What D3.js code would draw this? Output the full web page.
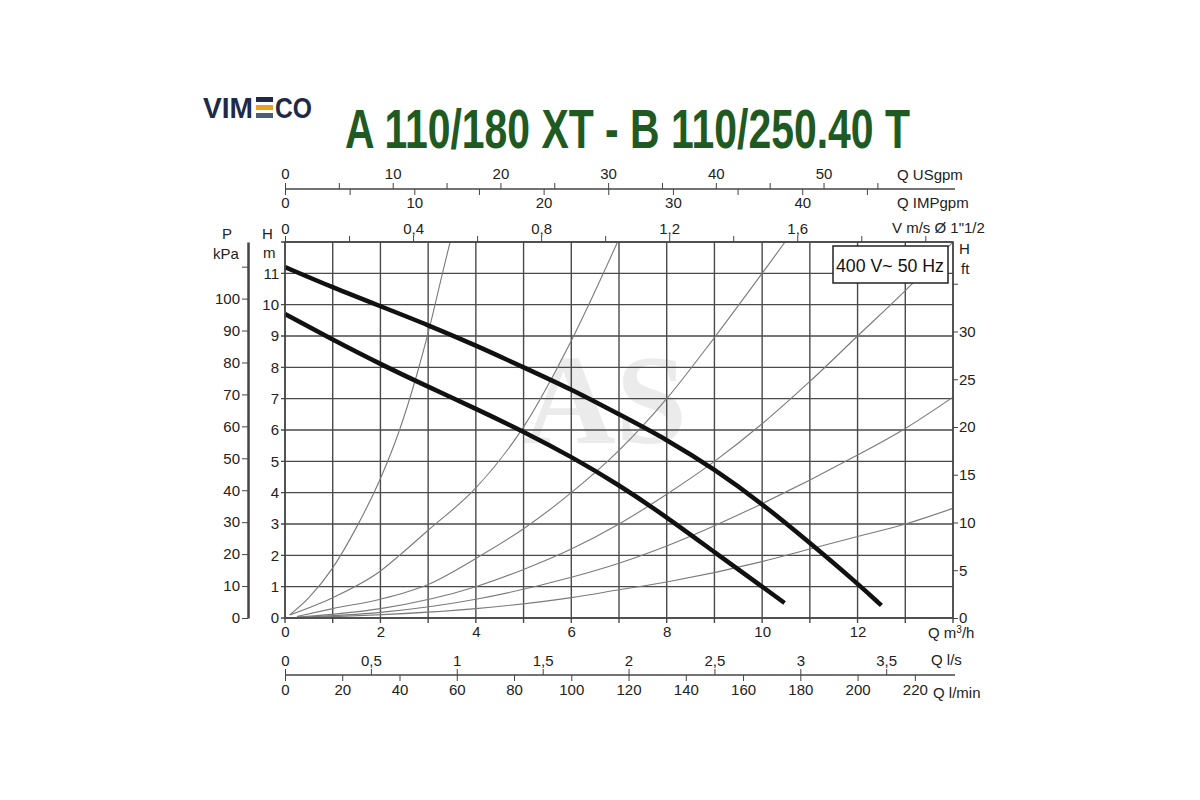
<!DOCTYPE html>
<html lang="en">
<head>
<meta charset="UTF-8">
<title>A 110/180 XT - B 110/250.40 T</title>
<script src="https://cdnjs.cloudflare.com/ajax/libs/d3/7.8.5/d3.min.js"></script>
<style>
    body {
        margin: 0;
        background: #fff;
    }
    svg {
        display: block;
        font-family: 'Liberation Sans', Arial, sans-serif;
    }
    .tick text, .lbl {
        font-size: 15px;
        fill: #222;
    }
    .axis path, .axis line {
        stroke: #444;
    }
</style>
</head>
<body>
<svg id="chart" width="1200" height="800"></svg>

<script>
// grid and tick values
const gridQ = [0, 1, 2, 3, 4, 5, 6, 7, 8, 9, 10, 11, 12, 13, 14];
const gridH = [0, 1, 2, 3, 4, 5, 6, 7, 8, 9, 10, 11, 12];
const qTicks = [0, 2, 4, 6, 8, 10, 12];
const hTicks = [0, 1, 2, 3, 4, 5, 6, 7, 8, 9, 10, 11];
const ftTicks = [0, 5, 10, 15, 20, 25, 30, 35];
const ftLabels = [0, 5, 10, 15, 20, 25, 30];
const kpaTicks = [0, 10, 20, 30, 40, 50, 60, 70, 80, 90, 100, 110];
const kpaLabels = [0, 10, 20, 30, 40, 50, 60, 70, 80, 90, 100];
const usTicks = [0, 5, 10, 15, 20, 25, 30, 35, 40, 45, 50, 55];
const usLabels = [0, 10, 20, 30, 40, 50];
const impTicks = [0, 5, 10, 15, 20, 25, 30, 35, 40, 45];
const impLabels = [0, 10, 20, 30, 40];
const vTicks = [0, 0.2, 0.4, 0.6, 0.8, 1.0, 1.2, 1.4, 1.6, 1.8, 2.0];
const vLabels = [0, 0.4, 0.8, 1.2, 1.6];
const lsTicks = [0, 0.5, 1, 1.5, 2, 2.5, 3, 3.5];
const lminTicks = [0, 20, 40, 60, 80, 100, 120, 140, 160, 180, 200, 220];

// unit conversions (per m3/h, m)
const usPerM3h = 4.43;
const impPerM3h = 3.69;
const msPerM3h = 1 / 6.71;   // velocity in 1"1/2 pipe
const lsPerM3h = 1 / 3.6;
const lminPerM3h = 1000 / 60;
const ftPerM = 1 / 0.3048;
const kpaPerM = 9.81;

// pump curves [Q m3/h, H m]
const pumpUpper = [[0, 11.2], [1, 10.55], [2, 9.95], [3, 9.35], [4, 8.7], [5, 8.0], [6, 7.3],
    [7, 6.5], [8, 5.7], [9, 4.75], [10, 3.65], [11, 2.4], [12, 1.1], [12.5, 0.4]];
const pumpLower = [[0, 9.7], [1, 8.88], [2, 8.1], [3, 7.38], [4, 6.68], [5, 5.95], [6, 5.15],
    [7, 4.25], [8, 3.22], [9, 2.1], [10, 1.0], [10.47, 0.48]];

// system (resistance) curves
const sysA = [[0.1, 0.1], [0.5, 0.65], [1, 1.6], [1.5, 2.9], [2, 4.45], [2.4, 6.0], [2.75, 7.7], [3, 9.1], [3.3, 11], [3.46, 12]];
const sysB = [[0.1, 0.1], [1, 0.65], [2, 1.5], [2.4, 2.0], [3, 2.8], [4, 4.15], [5, 6.1], [6, 8.85], [6.97, 12]];
const sysC = [[0.25, 0.05], [1, 0.3], [2, 0.6], [3, 1.07], [4, 1.9], [5, 2.85], [6, 4.0], [7, 5.35], [8, 7.0], [9, 8.95], [10, 11.0], [10.48, 12]];
const sysD = [[0.25, 0.03], [2, 0.3], [4, 1.0], [5, 1.55], [6, 2.2], [7, 3.0], [8, 3.95], [9, 5.0], [10, 6.2], [11, 7.55], [12, 9.0], [13, 10.45], [14, 12.0]];
const sysE = [[0.25, 0.02], [2, 0.18], [4, 0.6], [6, 1.3], [7, 1.75], [8, 2.3], [10, 3.65], [12, 5.2], [13, 6.05], [14, 7.05]];
const sysF = [[0.25, 0.01], [4, 0.3], [6, 0.65], [7, 0.9], [8, 1.15], [10, 1.8], [11, 2.2], [12, 2.6], [13, 3.0], [14, 3.5]];
const systemCurves = [sysA, sysB, sysC, sysD, sysE, sysF];

const svg = d3.select("#chart");

// plot area
const pL = 285, pR = 953, pT = 242, pB = 618;
const x = d3.scaleLinear().domain([0, 14]).range([pL, pR]);
const y = d3.scaleLinear().domain([0, 12]).range([pB, pT]);

const comma = d => String(d).replace(".", ",");

// ---- header: logo + title ----
const logo = svg.append("g").attr("fill", "#1e2a47")
    .style("font-weight", "bold").style("font-size", "29px");
logo.append("text").attr("x", 203).attr("y", 118).attr("textLength", 50)
    .attr("lengthAdjust", "spacingAndGlyphs").text("VIM");
logo.append("rect").attr("x", 256).attr("y", 97).attr("width", 17).attr("height", 5).attr("fill", "#1e2a47");
logo.append("rect").attr("x", 256).attr("y", 105).attr("width", 17).attr("height", 5).attr("fill", "#e9a21c");
logo.append("rect").attr("x", 256).attr("y", 113).attr("width", 17).attr("height", 5).attr("fill", "#4b5d78");
logo.append("text").attr("x", 275).attr("y", 118).attr("textLength", 37)
    .attr("lengthAdjust", "spacingAndGlyphs").text("CO");

svg.append("text")
    .attr("x", 345).attr("y", 148)
    .attr("textLength", 565).attr("lengthAdjust", "spacingAndGlyphs")
    .style("font-family", "'Liberation Sans', Arial, sans-serif")
    .style("font-weight", "bold").style("font-size", "55px")
    .attr("fill", "#1f5a22")
    .text("A 110/180 XT - B 110/250.40 T");

// ---- watermark ----
svg.append("text")
    .attr("x", 605).attr("y", 443).attr("text-anchor", "middle")
    .style("font-family", "'Liberation Serif', serif").style("font-size", "128px")
    .style("font-weight", "bold")
    .attr("fill", "#ebebeb")
    .text("AS");

// ---- grid ----
const grid = svg.append("g").attr("stroke", "#4a4a4a").attr("stroke-width", 1.4);
grid.selectAll("line.v").data(gridQ).join("line").attr("class", "v")
    .attr("x1", d => x(d)).attr("x2", d => x(d))
    .attr("y1", pT).attr("y2", pB + 5);
grid.selectAll("line.h").data(gridH).join("line").attr("class", "h")
    .attr("y1", d => y(d)).attr("y2", d => y(d))
    .attr("x1", pL - 4).attr("x2", pR);

// ---- system curves ----
svg.append("clipPath").attr("id", "plotClip")
    .append("rect").attr("x", pL).attr("y", pT).attr("width", pR - pL).attr("height", pB - pT);

const thin = d3.line().x(d => x(d[0])).y(d => y(d[1])).curve(d3.curveMonotoneX);
svg.append("g").attr("clip-path", "url(#plotClip)")
    .selectAll("path").data(systemCurves).join("path")
    .attr("d", thin)
    .attr("fill", "none").attr("stroke", "#7a7a7a").attr("stroke-width", 1.1);

// ---- pump curves ----
const thick = d3.line().x(d => x(d[0])).y(d => y(d[1])).curve(d3.curveBasis);
svg.append("g").selectAll("path").data([pumpUpper, pumpLower]).join("path")
    .attr("d", thick)
    .attr("fill", "none").attr("stroke", "#111").attr("stroke-width", 4.5)
    .attr("stroke-linecap", "butt");

// ---- left H m labels ----
const hAxis = svg.append("g").attr("class", "axis").attr("transform", `translate(${pL},0)`)
    .call(d3.axisLeft(y).tickValues(hTicks).tickSize(0).tickPadding(6));
hAxis.select(".domain").remove();
svg.append("text").attr("class", "lbl").attr("x", 262).attr("y", 239).text("H");
svg.append("text").attr("class", "lbl").attr("x", 263).attr("y", 258).text("m");

// ---- P kPa axis ----
const yK = d3.scaleLinear().domain([0, 12 * kpaPerM]).range([pB, pT]);
const kAxis = svg.append("g").attr("class", "axis").attr("transform", "translate(248,0)")
    .call(d3.axisLeft(yK).tickValues(kpaTicks).tickSize(6).tickSizeOuter(0).tickPadding(2)
        .tickFormat(d => kpaLabels.includes(d) ? d : ""));
kAxis.select(".domain").attr("stroke", "#999").attr("stroke-width", 2.5);
kAxis.selectAll(".tick line").attr("stroke", "#666");
svg.append("text").attr("class", "lbl").attr("x", 222).attr("y", 239).text("P");
svg.append("text").attr("class", "lbl").attr("x", 213).attr("y", 259).text("kPa");

// ---- right H ft axis ----
const yF = d3.scaleLinear().domain([0, 12 * ftPerM]).range([pB, pT]);
const fAxis = svg.append("g").attr("class", "axis").attr("transform", `translate(${pR},0)`)
    .call(d3.axisRight(yF).tickValues(ftTicks).tickSize(5).tickPadding(1)
        .tickFormat(d => ftLabels.includes(d) ? d : ""));
fAxis.select(".domain").remove();
svg.append("text").attr("class", "lbl").attr("x", 959).attr("y", 254).text("H");
svg.append("text").attr("class", "lbl").attr("x", 961).attr("y", 274).text("ft");

// ---- plot frame ----
svg.append("rect").attr("x", pL).attr("y", pT).attr("width", pR - pL).attr("height", pB - pT)
    .attr("fill", "none").attr("stroke", "#444").attr("stroke-width", 1.5);

// ---- top axes ----
const xUS = d3.scaleLinear().domain([0, 14 * usPerM3h]).range([pL, pR]);
const xIMP = d3.scaleLinear().domain([0, 14 * impPerM3h]).range([pL, pR]);
const xV = d3.scaleLinear().domain([0, 14 * msPerM3h]).range([pL, pR]);

svg.append("line").attr("x1", pL).attr("x2", 955).attr("y1", 189).attr("y2", 189)
    .attr("stroke", "#444").attr("stroke-width", 1.3);
const usAxis = svg.append("g").attr("class", "axis").attr("transform", "translate(0,189)")
    .call(d3.axisTop(xUS).tickValues(usTicks).tickSize(6).tickPadding(4)
        .tickFormat(d => usLabels.includes(d) ? d : ""));
usAxis.select(".domain").remove();
const impAxis = svg.append("g").attr("class", "axis").attr("transform", "translate(0,189)")
    .call(d3.axisBottom(xIMP).tickValues(impTicks).tickSize(6).tickPadding(2)
        .tickFormat(d => impLabels.includes(d) ? d : ""));
impAxis.select(".domain").remove();
const vAxis = svg.append("g").attr("class", "axis").attr("transform", `translate(0,${pT})`)
    .call(d3.axisTop(xV).tickValues(vTicks).tickSize(6).tickPadding(2)
        .tickFormat(d => vLabels.includes(d) ? comma(d) : ""));
vAxis.select(".domain").remove();
svg.append("text").attr("class", "lbl").attr("x", 897).attr("y", 180).text("Q USgpm");
svg.append("text").attr("class", "lbl").attr("x", 897).attr("y", 208).text("Q IMPgpm");
svg.append("text").attr("class", "lbl").attr("x", 892).attr("y", 233).text("V m/s Ø 1\"1/2");

// ---- bottom axes ----
const qAxis = svg.append("g").attr("class", "axis").attr("transform", `translate(0,${pB})`)
    .call(d3.axisBottom(x).tickValues(qTicks).tickSize(0).tickPadding(8));
qAxis.select(".domain").remove();
svg.append("text").attr("class", "lbl").attr("x", 928).attr("y", 638).html("Q m<tspan dy='-5' style='font-size:10px'>3</tspan><tspan dy='5'>/h</tspan>");

const xLs = d3.scaleLinear().domain([0, 14 * lsPerM3h]).range([pL, pR]);
const xLmin = d3.scaleLinear().domain([0, 14 * lminPerM3h]).range([pL, pR]);
svg.append("line").attr("x1", pL).attr("x2", 955).attr("y1", 675).attr("y2", 675)
    .attr("stroke", "#444").attr("stroke-width", 1.3);
const lsAxis = svg.append("g").attr("class", "axis").attr("transform", "translate(0,675)")
    .call(d3.axisTop(xLs).tickValues(lsTicks).tickSize(6).tickPadding(3).tickFormat(comma));
lsAxis.select(".domain").remove();
const lminAxis = svg.append("g").attr("class", "axis").attr("transform", "translate(0,675)")
    .call(d3.axisBottom(xLmin).tickValues(lminTicks).tickSize(6).tickPadding(3));
lminAxis.select(".domain").remove();
svg.append("text").attr("class", "lbl").attr("x", 931).attr("y", 665).text("Q l/s");
svg.append("text").attr("class", "lbl").attr("x", 933).attr("y", 698).text("Q l/min");

// ---- legend box ----
svg.append("rect").attr("x", 833).attr("y", 246).attr("width", 115).attr("height", 37)
    .attr("fill", "#fff").attr("stroke", "#222").attr("stroke-width", 1.5);
svg.append("text").attr("x", 836).attr("y", 272).attr("textLength", 108)
    .attr("lengthAdjust", "spacingAndGlyphs")
    .style("font-size", "19px").attr("fill", "#111")
    .text("400 V~ 50 Hz");
</script>
</body>
</html>
